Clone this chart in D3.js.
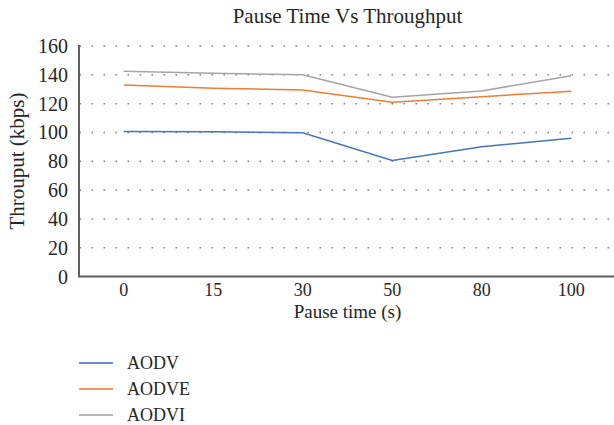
<!DOCTYPE html>
<html lang="en">
<head>
    <meta charset="UTF-8">
    <title>Pause Time Vs Throughput</title>
    <style>
        body {
            margin: 0;
            overflow: hidden;
            background: white;
            font-family: 'Liberation Serif', 'DejaVu Serif', serif;
        }
        text {
            fill: #262626;
        }
    </style>
    <script src="https://d3js.org/d3.v7.min.js"></script>
</head>
<body>
    <div id="chart"></div>
    <script>
        // pause time categories (s)
        const pauseTimes = ["0", "15", "30", "50", "80", "100"];
        const yTicks = [0, 20, 40, 60, 80, 100, 120, 140, 160];

        // throughput in kbps
        const aodv = [100.7, 100.4, 99.7, 80.6, 90, 96];
        const aodve = [133, 130.6, 129.5, 121, 124.8, 128.6];
        const aodvi = [142.5, 141, 140, 124.4, 128.8, 139.4];

        const seriesNames = ["AODV", "AODVE", "AODVI"];
        const seriesColors = ["#4472C4", "#ED7D31", "#A5A5A5"];

        const width = 614, height = 425;
        const plot = { left: 79, right: 616, top: 46, bottom: 276.5 };

        const svg = d3.select("#chart")
            .append("svg")
            .attr("width", width)
            .attr("height", height);

        const x = d3.scalePoint()
            .domain(pauseTimes)
            .range([plot.left, plot.right])
            .padding(0.5);

        const y = d3.scaleLinear()
            .domain([0, 160])
            .range([plot.bottom, plot.top]);

        // dotted gridlines
        svg.selectAll(".grid")
            .data(yTicks.filter(d => d > 0))
            .enter()
            .append("line")
            .attr("class", "grid")
            .attr("x1", plot.left + 0.5)
            .attr("x2", plot.right)
            .attr("y1", d => y(d))
            .attr("y2", d => y(d))
            .attr("stroke", "#7f7f7f")
            .attr("stroke-width", 1.5)
            .attr("stroke-dasharray", "1.5 10.5");

        // y tick labels
        svg.selectAll(".ylab")
            .data(yTicks)
            .enter()
            .append("text")
            .attr("class", "ylab")
            .attr("x", 68)
            .attr("y", d => y(d))
            .attr("dy", "0.35em")
            .attr("text-anchor", "end")
            .attr("font-size", "20px")
            .text(d => d);

        // x tick labels
        svg.selectAll(".xlab")
            .data(pauseTimes)
            .enter()
            .append("text")
            .attr("class", "xlab")
            .attr("x", d => x(d))
            .attr("y", 290)
            .attr("dy", "0.35em")
            .attr("text-anchor", "middle")
            .attr("font-size", "18px")
            .text(d => d);

        // axes
        svg.append("path")
            .attr("d", `M${plot.left},${plot.top - 1}V${plot.bottom}H${plot.right}`)
            .attr("fill", "none")
            .attr("stroke", "#5f5f5f")
            .attr("stroke-width", 2);

        const series = [aodv, aodve, aodvi].map((values, i) => ({
            name: seriesNames[i],
            color: seriesColors[i],
            values: values
        }));

        const line = d3.line()
            .x((d, i) => x(pauseTimes[i]))
            .y(d => y(d));

        svg.selectAll(".series")
            .data(series)
            .enter()
            .append("path")
            .attr("class", "series")
            .attr("d", d => line(d.values))
            .attr("fill", "none")
            .attr("stroke", d => d.color)
            .attr("stroke-width", 1.5);

        // title and axis titles
        svg.append("text")
            .attr("x", 347.5)
            .attr("y", 23)
            .attr("text-anchor", "middle")
            .attr("font-size", "21px")
            .text("Pause Time Vs Throughput");

        svg.append("text")
            .attr("x", 347.5)
            .attr("y", 318)
            .attr("text-anchor", "middle")
            .attr("font-size", "19px")
            .text("Pause time (s)");

        svg.append("text")
            .attr("transform", "translate(24,161) rotate(-90)")
            .attr("text-anchor", "middle")
            .attr("font-size", "21px")
            .text("Throuput (kbps)");

        // legend
        const legend = svg.selectAll(".legend-item")
            .data(series)
            .enter()
            .append("g")
            .attr("class", "legend-item")
            .attr("transform", (d, i) => `translate(79,${363 + i * 26})`);

        legend.append("line")
            .attr("x1", 0)
            .attr("x2", 34)
            .attr("stroke", d => d.color)
            .attr("stroke-width", 2)
            .attr("stroke-opacity", 0.8);

        legend.append("text")
            .attr("x", 48)
            .attr("dy", "0.35em")
            .attr("font-size", "18px")
            .text(d => d.name);
    </script>
</body>
</html>
